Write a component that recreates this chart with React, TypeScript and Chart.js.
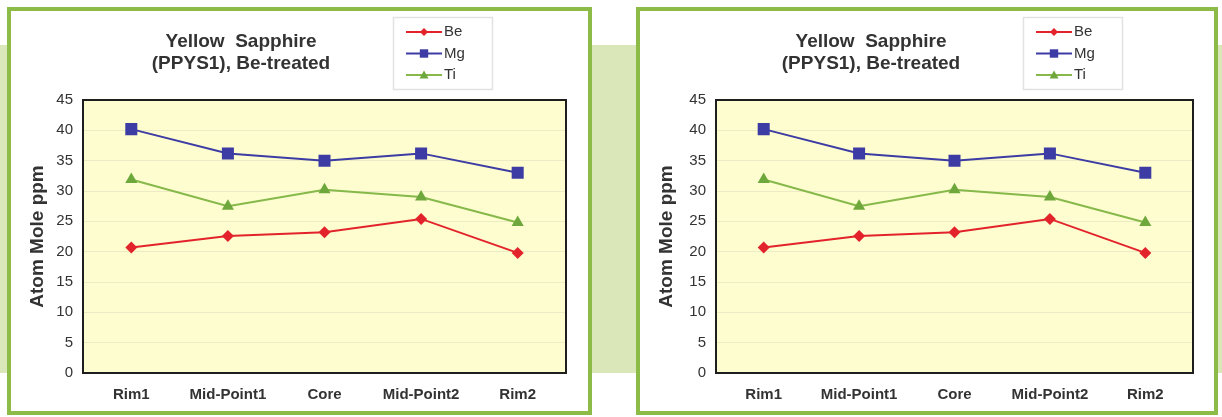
import React, { useEffect, useRef } from 'react';
import { Chart, registerables } from 'chart.js';

Chart.register(...registerables);

const categories = ['Rim1', 'Mid-Point1', 'Core', 'Mid-Point2', 'Rim2'];
const beValues = [20.7, 22.6, 23.2, 25.4, 19.8];
const mgValues = [40.2, 36.2, 35.0, 36.2, 33.0];
const tiValues = [31.9, 27.5, 30.2, 29.0, 24.8];
const seriesNames = ['Be', 'Mg', 'Ti'];
const titleLines = ['Yellow  Sapphire', '(PPYS1), Be-treated'];
const yAxisTitle = 'Atom Mole ppm';
const yMin = 0;
const yMax = 45;
const yStep = 5;

const RED = '#e3232b';
const BLUE = '#3c3ca4';
const GREEN_LINE = '#86b84a';
const GREEN_MARK = '#6ea83c';
const PANEL_GREEN = '#8dbb48';
const BAND_GREEN = '#dae7b8';
const PLOT_BG = '#fdfdcf';
const GRID = '#ecebc4';
const TEXT = '#333333';
const FONT = '"Liberation Sans", Arial, sans-serif';

type PanelProps = {
  left: number;
  width: number;
  yAxisWidth: number;
  rightPad: number;
  titleX: number;
  legendX: number;
};

function drawMarker(ctx: CanvasRenderingContext2D, kind: string, x: number, y: number, r: number, color: string) {
  ctx.save();
  ctx.fillStyle = color;
  ctx.beginPath();
  if (kind === 'diamond') {
    ctx.moveTo(x, y - r);
    ctx.lineTo(x + r, y);
    ctx.lineTo(x, y + r);
    ctx.lineTo(x - r, y);
  } else if (kind === 'square') {
    ctx.rect(x - r, y - r, 2 * r, 2 * r);
  } else {
    ctx.moveTo(x, y - r);
    ctx.lineTo(x + r, y + r * 0.8);
    ctx.lineTo(x - r, y + r * 0.8);
  }
  ctx.closePath();
  ctx.fill();
  ctx.restore();
}

function Panel(props: PanelProps) {
  const ref = useRef<HTMLCanvasElement | null>(null);

  useEffect(() => {
    if (!ref.current) return;
    const p = props;
    const decor = {
      id: 'decor',
      beforeDraw(chart: any) {
        const { ctx, chartArea: a } = chart;
        ctx.save();
        ctx.fillStyle = PLOT_BG;
        ctx.fillRect(a.left, a.top, a.right - a.left, a.bottom - a.top);
        ctx.restore();
      },
      afterDraw(chart: any) {
        const { ctx, chartArea: a } = chart;
        ctx.save();
        ctx.strokeStyle = '#1e1e1e';
        ctx.lineWidth = 2;
        ctx.strokeRect(a.left, a.top, a.right - a.left, a.bottom - a.top);

        // title
        ctx.fillStyle = TEXT;
        ctx.font = `bold 19px ${FONT}`;
        ctx.textAlign = 'center';
        ctx.textBaseline = 'middle';
        ctx.fillText(titleLines[0], p.titleX, 31);
        ctx.fillText(titleLines[1], p.titleX, 53);

        // legend
        const bx = p.legendX;
        const by = 6;
        const bw = 99;
        const bh = 72;
        ctx.strokeStyle = '#e2e2e2';
        ctx.lineWidth = 1.5;
        ctx.strokeRect(bx + 0.5, by + 0.5, bw, bh);
        const colors = [RED, BLUE, GREEN_LINE];
        const marks = [RED, BLUE, GREEN_MARK];
        const kinds = ['diamond', 'square', 'triangle'];
        const sizes = [4, 4.2, 4.5];
        ctx.font = `15px ${FONT}`;
        ctx.textAlign = 'left';
        for (let i = 0; i < seriesNames.length; i++) {
          const ly = by + 15 + i * 21.5;
          ctx.strokeStyle = colors[i];
          ctx.lineWidth = 2;
          ctx.beginPath();
          ctx.moveTo(bx + 13, ly);
          ctx.lineTo(bx + 49, ly);
          ctx.stroke();
          drawMarker(ctx, kinds[i], bx + 31, ly, sizes[i], marks[i]);
          ctx.fillStyle = TEXT;
          ctx.fillText(seriesNames[i], bx + 51, ly);
        }
        ctx.restore();
      },
    };

    const chart = new Chart(ref.current, {
      type: 'line',
      data: {
        labels: categories,
        datasets: [
          {
            label: seriesNames[0],
            data: beValues,
            borderColor: RED,
            backgroundColor: RED,
            borderWidth: 2,
            pointStyle: 'rectRot',
            pointRadius: 6,
            pointBorderWidth: 0,
            tension: 0,
          },
          {
            label: seriesNames[1],
            data: mgValues,
            borderColor: BLUE,
            backgroundColor: BLUE,
            borderWidth: 2,
            pointStyle: 'rect',
            pointRadius: 8.5,
            pointBorderWidth: 0,
            tension: 0,
          },
          {
            label: seriesNames[2],
            data: tiValues,
            borderColor: GREEN_LINE,
            backgroundColor: GREEN_MARK,
            borderWidth: 2,
            pointStyle: 'triangle',
            pointRadius: 7,
            pointBorderWidth: 0,
            tension: 0,
          },
        ],
      },
      options: {
        animation: false,
        responsive: false,
        maintainAspectRatio: false,
        layout: { padding: { top: 89, right: p.rightPad, left: 0, bottom: 0 } },
        plugins: {
          legend: { display: false },
          title: { display: false },
          tooltip: { enabled: false },
        },
        scales: {
          x: {
            offset: true,
            grid: { display: false, drawTicks: false },
            border: { display: false },
            ticks: {
              padding: 13,
              color: TEXT,
              font: { family: FONT, size: 15, weight: 'bold' },
              maxRotation: 0,
            },
            afterFit(s: any) {
              s.height = 38;
            },
          },
          y: {
            min: yMin,
            max: yMax,
            grid: { color: GRID, drawTicks: false, lineWidth: 1 },
            border: { display: false },
            ticks: {
              stepSize: yStep,
              padding: 10,
              color: TEXT,
              font: { family: FONT, size: 15 },
            },
            title: {
              display: true,
              text: yAxisTitle,
              color: TEXT,
              font: { family: FONT, size: 19, weight: 'bold' },
              padding: { top: 15, bottom: 0 },
            },
            afterFit(s: any) {
              s.width = p.yAxisWidth;
            },
          },
        },
      },
      plugins: [decor],
    } as any);
    return () => chart.destroy();
  }, []);

  const innerW = props.width - 8;
  return (
    <div
      style={{
        position: 'absolute',
        left: props.left,
        top: 7,
        width: props.width - 8,
        height: 400,
        border: `4px solid ${PANEL_GREEN}`,
        background: '#ffffff',
      }}
    >
      <canvas ref={ref} width={innerW} height={400} style={{ display: 'block', width: innerW, height: 400 }} />
    </div>
  );
}

export default function App() {
  return (
    <div
      style={{
        position: 'fixed',
        left: 0,
        top: 0,
        width: 1222,
        height: 417,
        background: '#ffffff',
        overflow: 'hidden',
      }}
    >
      <div style={{ position: 'absolute', left: 0, top: 45, width: 1222, height: 328, background: BAND_GREEN }} />
      <Panel left={7} width={585} yAxisWidth={72} rightPad={22} titleX={230} legendX={382} />
      <Panel left={636} width={582} yAxisWidth={76} rightPad={21} titleX={231} legendX={383} />
    </div>
  );
}
